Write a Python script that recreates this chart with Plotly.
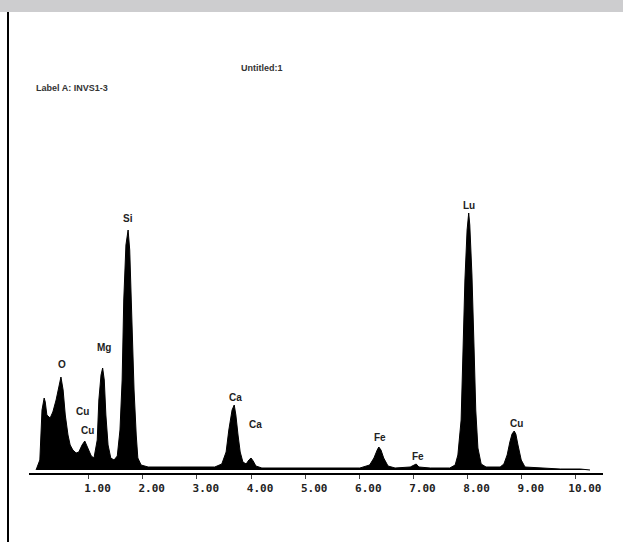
import plotly.graph_objects as go

# Spectrum outline (energy in keV, counts in arbitrary units)
energy_kev = [0.03, 0.10, 0.14, 0.18, 0.20, 0.23, 0.29, 0.34, 0.40, 0.45, 0.49, 0.53, 0.57, 0.62,
              0.66, 0.71, 0.77, 0.82, 0.88, 0.93, 0.99, 1.05, 1.10, 1.16, 1.19, 1.23, 1.26, 1.29,
              1.32, 1.36, 1.41, 1.47, 1.53, 1.58, 1.62, 1.65, 1.69, 1.73, 1.76, 1.80, 1.84, 1.88,
              1.91, 1.97, 2.10, 2.69, 3.33, 3.46, 3.54, 3.59, 3.65, 3.69, 3.72, 3.76, 3.80, 3.85,
              3.91, 3.96, 4.00, 4.04, 4.09, 4.20, 6.01, 6.19, 6.27, 6.33, 6.36, 6.40, 6.45, 6.53,
              6.66, 6.94, 7.01, 7.05, 7.10, 7.31, 7.67, 7.77, 7.82, 7.88, 7.91, 7.95, 7.99, 8.02,
              8.04, 8.08, 8.12, 8.15, 8.19, 8.25, 8.34, 8.60, 8.67, 8.73, 8.78, 8.82, 8.86, 8.89,
              8.93, 8.99, 9.06, 9.34, 9.71, 10.08, 10.26]
counts = [0, 10, 60, 72, 68, 55, 52, 58, 70, 85, 93, 80, 55, 35,
          25, 20, 17, 18, 25, 29, 22, 14, 12, 30, 70, 95, 102, 90,
          55, 25, 12, 10, 14, 40, 90, 170, 225, 240, 220, 150, 80, 35,
          12, 5, 3, 3, 3, 6, 18, 40, 60, 65, 55, 35, 18, 8,
          6, 10, 12, 9, 4, 2, 2, 5, 12, 20, 23, 20, 12, 4,
          2, 3, 5, 6, 3, 2, 2, 5, 15, 50, 110, 190, 240, 257,
          245, 195, 120, 60, 22, 6, 3, 3, 6, 15, 28, 36, 39, 36,
          25, 10, 3, 2, 1, 1, 0]

# Peak labels
peak_labels = ["O", "Mg", "Cu", "Cu", "Si", "Ca", "Ca", "Fe", "Fe", "Lu", "Cu"]
peak_label_x = [0.51, 1.29, 0.88, 0.98, 1.73, 3.72, 4.08, 6.38, 7.08, 8.03, 8.90]
peak_label_y = [98, 115, 51, 32, 244, 65, 38, 25, 6, 257, 39]

tick_vals = [1, 2, 3, 4, 5, 6, 7, 8, 9, 10]
tick_text = ["1.00", "2.00", "3.00", "4.00", "5.00", "6.00", "7.00", "8.00", "9.00", "10.00"]

W, H = 623, 542
ml, mr, mt, mb = 29, 20, 200, 69
pw, ph = W - ml - mr, H - mt - mb


def px_to_paper_x(px):
    return (px - ml) / pw


def px_to_paper_y(py):
    return (H - mb - py) / ph


fig = go.Figure()
fig.add_trace(go.Scatter(
    x=energy_kev, y=counts, mode="lines", fill="tozeroy",
    line=dict(color="black", width=1), fillcolor="black",
    hoverinfo="x+y", showlegend=False,
))

annotations = []
for t, x, y in zip(peak_labels, peak_label_x, peak_label_y):
    annotations.append(dict(x=x, y=y, xref="x", yref="y", text="<b>%s</b>" % t,
                            showarrow=False, font=dict(family="Liberation Sans", size=10, color="#222"),
                            yanchor="bottom"))
annotations.append(dict(x=px_to_paper_x(262), y=px_to_paper_y(68), xref="paper", yref="paper",
                        text="<b>Untitled:1</b>", showarrow=False, yanchor="middle",
                        font=dict(family="Liberation Sans", size=9, color="#333")))
annotations.append(dict(x=px_to_paper_x(34), y=px_to_paper_y(88), xref="paper", yref="paper",
                        text="<b>Label A: INVS1-3</b>", showarrow=False, xanchor="left", yanchor="middle",
                        font=dict(family="Liberation Sans", size=9, color="#333")))

shapes = [
    dict(type="rect", xref="paper", yref="paper",
         x0=px_to_paper_x(0), x1=px_to_paper_x(W), y0=px_to_paper_y(0), y1=px_to_paper_y(12),
         fillcolor="#cdcdcf", line=dict(width=0), layer="below"),
    dict(type="line", xref="paper", yref="paper",
         x0=px_to_paper_x(8), x1=px_to_paper_x(8), y0=px_to_paper_y(12), y1=px_to_paper_y(H),
         line=dict(color="black", width=2)),
]

fig.update_layout(
    width=W, height=H,
    margin=dict(l=ml, r=mr, t=mt, b=mb),
    paper_bgcolor="white", plot_bgcolor="white",
    annotations=annotations, shapes=shapes,
    xaxis=dict(range=[-0.1, 10.5], tickvals=tick_vals, ticktext=tick_text,
               showgrid=False, zeroline=False, showline=True, linecolor="black", linewidth=2,
               ticks="outside", ticklen=4, tickcolor="#444", tickwidth=1,
               ticklabelshift=9,
               tickfont=dict(family="DejaVu Sans Mono", size=11, color="#222", weight="bold")),
    yaxis=dict(range=[-3, 270], visible=False, showgrid=False, zeroline=False),
)

fig.write_html("out.html", config={"displayModeBar": False},
               post_script="document.body.style.margin='0';document.body.style.padding='0';")
